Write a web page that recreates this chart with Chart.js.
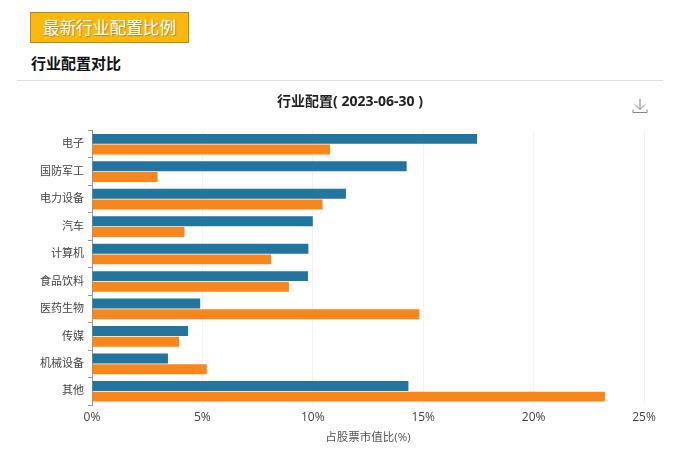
<!DOCTYPE html>
<html>
<head>
<meta charset="utf-8">
<script src="https://cdn.jsdelivr.net/npm/chart.js@4"></script>
<style>
body { margin: 0; background: #fff; font-family: "Open Sans", "Noto Sans CJK SC", sans-serif; }
#wrap { position: relative; width: 700px; height: 456px; overflow: hidden; }
#myChart { position: absolute; left: 0; top: 0; }
.badge { position: absolute; left: 30px; top: 12px; width: 157px; height: 29px; line-height: 29px; background: #fdb90b; border: 1px solid #b58d1e; color: #fff; font-size: 16.7px; text-align: center; text-shadow: 1px 1px 1px #a88a30; }
.sub { position: absolute; left: 31px; top: 52px; font-size: 15px; line-height: 22px; font-weight: bold; color: #111; }
.rule { position: absolute; left: 17px; top: 80px; width: 646px; height: 1px; background: #e0e0e0; }
.icon { position: absolute; left: 632px; top: 98px; }
</style>
</head>
<body>
<div id="wrap">
  <div class="badge">最新行业配置比例</div>
  <div class="sub">行业配置对比</div>
  <div class="rule"></div>
  <canvas id="myChart" width="700" height="456"></canvas>
  <svg class="icon" width="16" height="16" viewBox="0 0 16 16" fill="none" stroke="#777" stroke-width="0.9">
    <path d="M8 1V11M3 6.5L8 11.5L13 6.5M1 11.5V14.5H15V11.5"/>
  </svg>
</div>
<script>
const categories = ['电子', '国防军工', '电力设备', '汽车', '计算机', '食品饮料', '医药生物', '传媒', '机械设备', '其他'];
const fundValues = [17.44, 14.25, 11.5, 10.0, 9.8, 9.78, 4.9, 4.35, 3.44, 14.33];
const benchValues = [10.78, 2.97, 10.44, 4.19, 8.11, 8.92, 14.83, 3.94, 5.2, 23.23];
const chartTitle = '行业配置( 2023-06-30 )';
const axisTitle = '占股票市值比(%)';

const fontFamily = '"Open Sans", "Noto Sans CJK SC", sans-serif';
const ctx = document.getElementById('myChart').getContext('2d');

const myChart = new Chart(ctx, {
    type: 'bar',
    data: {
        labels: categories,
        datasets: [
            { label: '基金', data: fundValues, backgroundColor: '#21759f' },
            { label: '基准', data: benchValues, backgroundColor: '#f9861b' }
        ]
    },
    options: {
        indexAxis: 'y',
        responsive: false,
        animation: false,
        categoryPercentage: 0.78,
        barPercentage: 0.93,
        layout: { padding: { left: 0, right: 0, top: 0, bottom: 11 } },
        scales: {
            x: {
                min: 0,
                max: 25,
                afterFit: function(scale) {
                    scale.height = 40;
                    scale.paddingRight = 56; // keeps the title centred on the whole canvas
                },
                border: { display: false },
                grid: { color: '#f2f2f2', drawTicks: false },
                ticks: {
                    stepSize: 5,
                    padding: 5,
                    color: '#444',
                    font: { family: fontFamily, size: 12 },
                    maxRotation: 0,
                    callback: function(v) { return v + '%'; }
                },
                title: {
                    display: true,
                    text: axisTitle,
                    color: '#555',
                    font: { family: fontFamily, size: 11.5 },
                    padding: { top: 5, bottom: 0 }
                }
            },
            y: {
                afterFit: function(scale) { scale.width = 92; },
                border: { display: true, color: '#999' },
                grid: { drawOnChartArea: false, color: '#999', tickLength: 4 },
                ticks: {
                    padding: 4,
                    color: '#444',
                    font: { family: fontFamily, size: 11 }
                }
            }
        },
        plugins: {
            legend: { display: false },
            tooltip: { enabled: false },
            title: {
                display: true,
                text: chartTitle,
                color: '#222',
                font: { family: fontFamily, size: 14, weight: 'bold' },
                padding: { top: 94, bottom: 19.7 }
            }
        }
    }
});
</script>
</body>
</html>
